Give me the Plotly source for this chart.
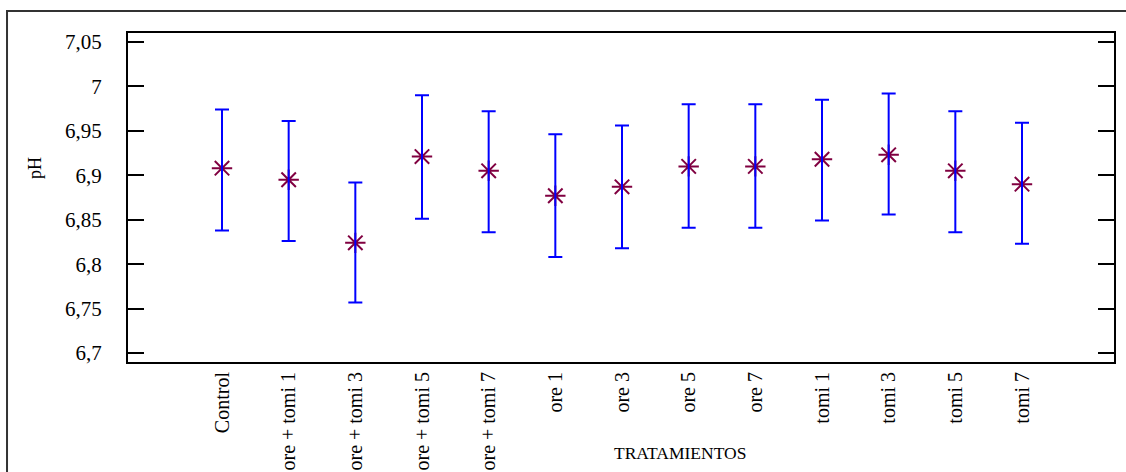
import plotly.graph_objects as go

treatments = ["Control", "ore + tomi 1", "ore + tomi 3", "ore + tomi 5", "ore + tomi 7",
              "ore 1", "ore 3", "ore 5", "ore 7", "tomi 1", "tomi 3", "tomi 5", "tomi 7"]
ph_mean = [6.908, 6.895, 6.824, 6.921, 6.905, 6.877, 6.887, 6.910, 6.910, 6.918, 6.923, 6.905, 6.890]
ph_upper = [6.974, 6.961, 6.892, 6.990, 6.972, 6.946, 6.956, 6.980, 6.980, 6.985, 6.992, 6.972, 6.959]
ph_lower = [6.838, 6.826, 6.757, 6.851, 6.836, 6.808, 6.818, 6.841, 6.841, 6.849, 6.856, 6.836, 6.823]
y_ticks = [6.7, 6.75, 6.8, 6.85, 6.9, 6.95, 7.0, 7.05]
y_tick_text = ["6,7", "6,75", "6,8", "6,85", "6,9", "6,95", "7", "7,05"]

xpos = list(range(len(treatments)))
err_plus = [u - m for u, m in zip(ph_upper, ph_mean)]
err_minus = [m - l for m, l in zip(ph_mean, ph_lower)]

FONT = "Liberation Serif, Times New Roman, serif"

fig = go.Figure()
fig.add_trace(go.Scatter(
    x=xpos, y=ph_mean, mode="markers",
    marker=dict(symbol="asterisk-open", size=17, color="#800040",
                line=dict(color="#800040", width=2)),
    showlegend=False, hoverinfo="skip"))
fig.add_trace(go.Scatter(
    x=xpos, y=ph_mean, mode="markers",
    marker=dict(size=1, color="rgba(0,0,0,0)"),
    error_y=dict(type="data", array=err_plus, arrayminus=err_minus,
                 color="#0000FF", thickness=2, width=7),
    showlegend=False, hoverinfo="skip"))

fig.update_layout(
    width=1126, height=472,
    margin=dict(l=128, r=12, t=33, b=110, autoexpand=False),
    paper_bgcolor="white", plot_bgcolor="white",
    font=dict(family=FONT, size=18, color="black"),
    xaxis=dict(range=[-1.41, 13.38], tickvals=xpos, ticktext=treatments,
               tickangle=-90, ticks="", showgrid=False, zeroline=False,
               showline=True, mirror=True, linewidth=2, linecolor="black",
               automargin=False,
               tickfont=dict(family=FONT, size=20, color="black")),
    yaxis=dict(range=[6.69, 7.06], tickvals=y_ticks, ticktext=y_tick_text,
               ticks="inside", ticklen=16, tickwidth=2, tickcolor="black",
               showgrid=False, zeroline=False,
               showline=True, mirror="ticks", linewidth=2, linecolor="black",
               ticklabelstandoff=20, automargin=False,
               tickfont=dict(family=FONT, size=21, color="black")),
    annotations=[
        dict(text="TRATAMIENTOS", xref="paper", yref="paper", x=0.56, y=-0.2766,
             xanchor="center", yanchor="middle", showarrow=False,
             font=dict(family=FONT, size=17.5, color="black")),
        dict(text="pH", xref="paper", yref="paper", x=-0.0943, y=0.5897,
             xanchor="center", yanchor="middle", showarrow=False, textangle=-90,
             font=dict(family=FONT, size=18, color="black")),
    ],
    shapes=[
        dict(type="rect", xref="paper", yref="paper",
             x0=-0.1227, y0=-0.40, x1=1.03, y1=1.0669,
             line=dict(color="#333333", width=2), fillcolor="rgba(0,0,0,0)",
             layer="below"),
    ],
)

fig.write_html("out.html")
